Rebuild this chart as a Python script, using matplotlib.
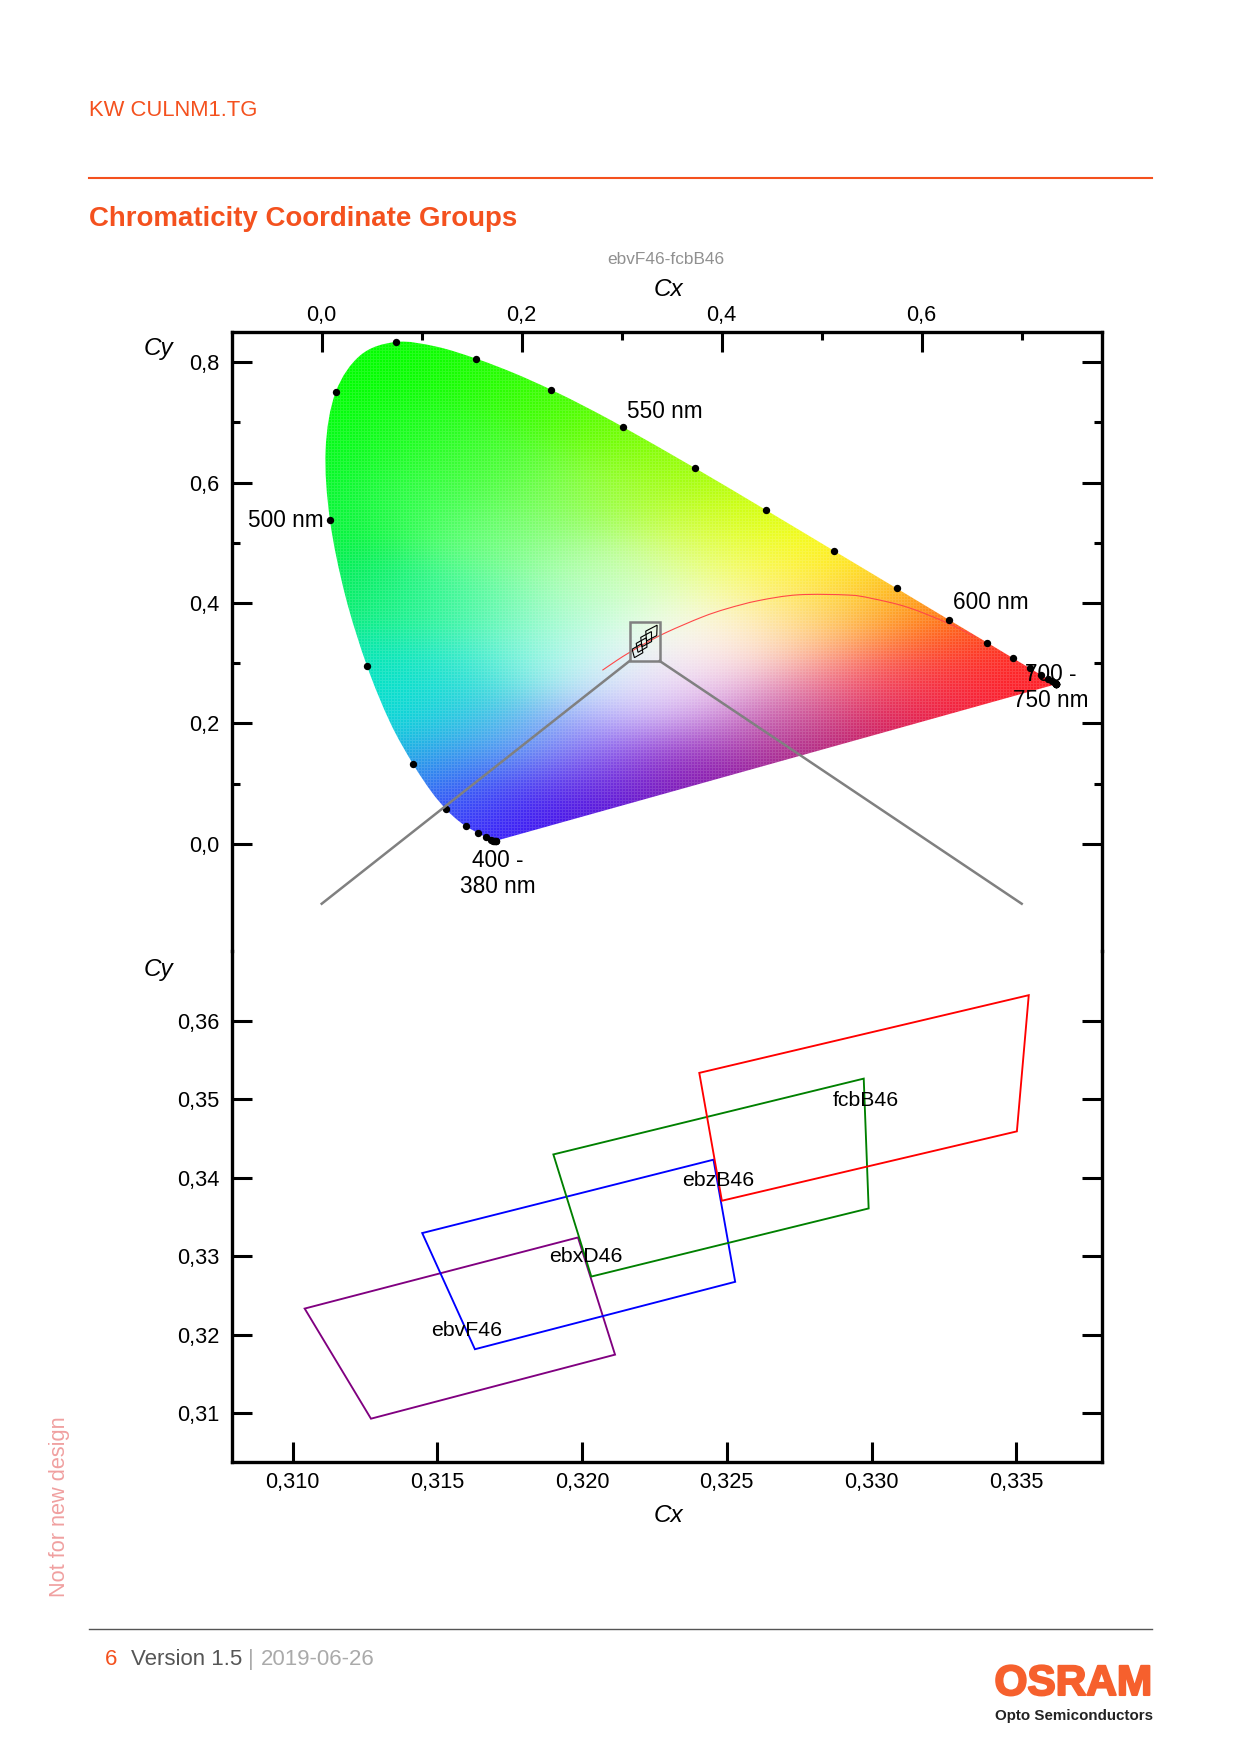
import numpy as np
import matplotlib
matplotlib.use("Agg")
import matplotlib.pyplot as plt
from matplotlib.patches import Polygon, Rectangle, PathPatch
from matplotlib.path import Path
from matplotlib import patheffects

plt.rcParams['font.family'] = ['Liberation Sans', 'DejaVu Sans']

ORANGE = '#F4511E'

# spectral locus, 380 - 750 nm in 10 nm steps (the black dots)
dots_x = [0.1741, 0.1738, 0.1733, 0.1726, 0.1714, 0.1689, 0.1644, 0.1566, 0.1440, 0.1241,
          0.0913, 0.0454, 0.0082, 0.0139, 0.0743, 0.1547, 0.2296, 0.3016, 0.3731, 0.4441,
          0.5125, 0.5752, 0.6270, 0.6658, 0.6915, 0.7079, 0.7190, 0.7260, 0.7300, 0.7334,
          0.7347, 0.7347, 0.7347, 0.7347, 0.7347, 0.7347, 0.7347, 0.7347]
dots_y = [0.0050, 0.0049, 0.0048, 0.0048, 0.0051, 0.0069, 0.0109, 0.0177, 0.0297, 0.0578,
          0.1327, 0.2950, 0.5384, 0.7502, 0.8338, 0.8059, 0.7543, 0.6923, 0.6245, 0.5547,
          0.4866, 0.4242, 0.3725, 0.3340, 0.3083, 0.2920, 0.2809, 0.2740, 0.2700, 0.2666,
          0.2653, 0.2653, 0.2653, 0.2653, 0.2653, 0.2653, 0.2653, 0.2653]

# gamut outline, a bit finer between 450 and 550 nm
edge_x = [0.1741, 0.1714, 0.1644, 0.1566, 0.1510, 0.1440, 0.1355, 0.1241, 0.1096, 0.0913, 0.0687,
          0.0454, 0.0235, 0.0082, 0.0039, 0.0139, 0.0389, 0.0743, 0.1142, 0.1547, 0.1929,
          0.2296, 0.2658, 0.3016, 0.3731, 0.4441, 0.5125, 0.5752, 0.6270, 0.6658, 0.6915, 0.7079, 0.7347]
edge_y = [0.0050, 0.0051, 0.0109, 0.0177, 0.0227, 0.0297, 0.0399, 0.0578, 0.0868, 0.1327, 0.2007,
          0.2950, 0.4127, 0.5384, 0.6548, 0.7502, 0.8120, 0.8338, 0.8262, 0.8059, 0.7816,
          0.7543, 0.7243, 0.6923, 0.6245, 0.5547, 0.4866, 0.4242, 0.3725, 0.3340, 0.3083, 0.2920, 0.2653]

# colours of the gamut at these (x, y)
tint_x = [0.083, 0.154, 0.229, 0.300, 0.371, 0.442, 0.512, 0.574, 0.626, 0.663, 0.706, 0.730,
          0.012, 0.005, 0.010, 0.022, 0.046, 0.064, 0.093, 0.123, 0.145, 0.173,
          0.234, 0.300, 0.376, 0.470, 0.555, 0.635, 0.697,
          0.093, 0.093, 0.164, 0.164, 0.235, 0.235, 0.305, 0.305, 0.376, 0.376, 0.447, 0.470, 0.517,
          0.531, 0.588, 0.470, 0.404, 0.423, 0.517, 0.602, 0.659, 0.470, 0.564, 0.635, 0.399, 0.470,
          0.329, 0.300, 0.281, 0.234, 0.305, 0.376, 0.258, 0.187, 0.140, 0.187, 0.140, 0.102, 0.140,
          0.210, 0.263, 0.093, 0.164, 0.235, 0.291, 0.281, 0.324, 0.362, 0.360, 0.376]
tint_y = [0.823, 0.801, 0.751, 0.690, 0.624, 0.555, 0.485, 0.424, 0.371, 0.335, 0.291, 0.264,
          0.750, 0.651, 0.541, 0.430, 0.297, 0.219, 0.131, 0.059, 0.031, 0.006,
          0.034, 0.070, 0.108, 0.153, 0.186, 0.225, 0.252,
          0.679, 0.568, 0.624, 0.513, 0.568, 0.485, 0.568, 0.457, 0.513, 0.430, 0.457, 0.402, 0.430,
          0.386, 0.375, 0.358, 0.358, 0.319, 0.302, 0.291, 0.291, 0.236, 0.241, 0.258, 0.209, 0.192,
          0.241, 0.275, 0.208, 0.169, 0.136, 0.136, 0.097, 0.070, 0.125, 0.180, 0.208, 0.236, 0.292,
          0.292, 0.303, 0.402, 0.402, 0.374, 0.385, 0.430, 0.330, 0.340, 0.290, 0.259]
tint_r = [0, 30, 60, 110, 150, 210, 255, 255, 255, 255, 255, 255,
          0, 0, 0, 0, 0, 0, 20, 50, 60, 50,
          70, 90, 120, 150, 190, 225, 255,
          30, 50, 70, 100, 120, 150, 170, 210, 220, 240, 255, 255, 255,
          255, 255, 255, 255, 255, 255, 255, 255, 230, 240, 250, 190, 195,
          220, 230, 180, 140, 145, 160, 95, 70, 70, 100, 50, 0, 50,
          120, 190, 30, 90, 140, 210, 190, 250, 255, 255, 240]
tint_g = [255, 255, 255, 255, 255, 255, 255, 190, 120, 60, 30, 30,
          255, 250, 245, 235, 230, 225, 175, 110, 60, 0,
          0, 0, 0, 0, 0, 10, 20,
          255, 255, 255, 255, 255, 255, 255, 255, 255, 255, 255, 240, 230,
          190, 140, 225, 255, 220, 130, 80, 50, 135, 70, 40, 130, 85,
          205, 245, 170, 150, 70, 50, 50, 50, 110, 190, 190, 225, 235,
          245, 250, 245, 250, 250, 255, 255, 255, 255, 235, 190]
tint_b = [0, 0, 0, 0, 0, 0, 0, 0, 0, 10, 30, 40,
          0, 30, 50, 90, 170, 210, 225, 245, 250, 255,
          225, 190, 140, 110, 80, 60, 40,
          30, 80, 50, 120, 80, 150, 50, 170, 60, 170, 70, 120, 50,
          80, 30, 170, 230, 220, 130, 80, 50, 180, 110, 70, 230, 160,
          255, 255, 255, 255, 235, 200, 240, 250, 250, 240, 230, 215, 200,
          225, 245, 140, 165, 195, 225, 190, 250, 240, 250, 235]

# planckian locus (red line)
planck_x = [0.2807, 0.2952, 0.3064, 0.3221, 0.3451, 0.3805, 0.4053, 0.4369, 0.4767, 0.5267, 0.5497, 0.5857, 0.6253, 0.6529]
planck_y = [0.2884, 0.3048, 0.3166, 0.3318, 0.3516, 0.3768, 0.3907, 0.4041, 0.4137, 0.4133, 0.4078, 0.3931, 0.3672, 0.3446]

# chromaticity groups
group_names = ['ebvF46', 'ebxD46', 'ebzB46', 'fcbB46']
group_colors = ['purple', 'blue', 'green', 'red']
group_x = [[0.31042, 0.31271, 0.32114, 0.31986],
           [0.31448, 0.31630, 0.32529, 0.32454],
           [0.31901, 0.32032, 0.32990, 0.32973],
           [0.32405, 0.32483, 0.33502, 0.33543]]
group_y = [[0.32334, 0.30931, 0.31747, 0.33240],
           [0.33296, 0.31816, 0.32675, 0.34231],
           [0.34298, 0.32742, 0.33610, 0.35264],
           [0.35337, 0.33708, 0.34592, 0.36327]]
label_x = [0.31602, 0.32013, 0.32472, 0.32980]
label_y = [0.32049, 0.32993, 0.33962, 0.34983]

# wavelength labels
nm_text = ['550 nm', '600 nm', '700 -', '750 nm', '400 -', '380 nm']
nm_x = [0.343, 0.669, 0.729, 0.729, 0.176, 0.176]
nm_y = [0.7177, 0.4017, 0.2807, 0.2382, -0.0278, -0.0705]

top_xticks = [0.0, 0.2, 0.4, 0.6]
top_xminor = [0.1, 0.3, 0.5, 0.7]
top_yticks = [0.0, 0.2, 0.4, 0.6, 0.8]
top_yminor = [0.1, 0.3, 0.5, 0.7]
low_xticks = [0.310, 0.315, 0.320, 0.325, 0.330, 0.335]
low_yticks = [0.31, 0.32, 0.33, 0.34, 0.35, 0.36]

W, H = 1240, 1754
fig = plt.figure(figsize=(12.4, 17.54), dpi=100)


def ftext(px, py, s, **kw):
    kw.setdefault('va', 'center')
    return fig.text(px / W, 1 - py / H, s, **kw)


def axes_px(x0, y0, x1, y1):
    a = fig.add_axes([x0 / W, 1 - y1 / H, (x1 - x0) / W, (y1 - y0) / H])
    a.patch.set_visible(False)
    return a


def comma(vals, n):
    return [f'{v:.{n}f}'.replace('.', ',') for v in vals]


def curve_path(xs, ys, closed=False):
    # bezier through the given points; closed = straight back to the start
    p = np.column_stack([xs, ys])
    verts, codes = [p[0]], [Path.MOVETO]
    for i in range(len(p) - 1):
        a = p[max(i - 1, 0)]
        d = p[min(i + 2, len(p) - 1)]
        verts += [p[i] + (p[i + 1] - a) / 6, p[i + 1] - (d - p[i]) / 6, p[i + 1]]
        codes += [Path.CURVE4] * 3
    if closed:
        verts.append(p[0])
        codes.append(Path.CLOSEPOLY)
    return Path(verts, codes)


def gamut_image(nx, ny, xlim, ylim, sigma=0.05):
    # blend the read-off colours over the pixel grid, then add the fine dot raster
    x, y = np.meshgrid(np.linspace(xlim[0], xlim[1], nx), np.linspace(ylim[1], ylim[0], ny))
    sum_w = np.zeros((ny, nx))
    sum_c = np.zeros((ny, nx, 3))
    for tx, ty, r, g, b in zip(tint_x, tint_y, tint_r, tint_g, tint_b):
        w = np.exp(-((x - tx) ** 2 + (y - ty) ** 2) / (2 * sigma ** 2)) + 1e-12
        sum_w += w
        sum_c += w[..., None] * np.array([r, g, b]) / 255
    rgb = sum_c / sum_w[..., None]
    rows, cols = np.indices((ny, nx))
    mask = ((rows % 3 == 0) | (cols % 3 == 0))
    rgb = np.where(mask[..., None], rgb * 0.88 + 0.12, rgb)
    return np.clip(rgb, 0, 1)


# frame is two axes sharing one outline
xlim_top = (-0.0897, 0.7803)
ylim_top = (-0.178, 0.8503)
xlim_low = (0.30791, 0.33796)
ylim_low = (0.30383, 0.3689)

ax = axes_px(232, 332, 1102, 951)
ax2 = axes_px(232, 951, 1102, 1461.7)

im = ax.imshow(gamut_image(870, 619, xlim_top, ylim_top), extent=[*xlim_top, *ylim_top],
               aspect='auto', interpolation='nearest', zorder=1)
clip = PathPatch(curve_path(edge_x, edge_y, closed=True), transform=ax.transData)
im.set_clip_path(clip)
ax.set_xlim(xlim_top)
ax.set_ylim(ylim_top)

ax.add_patch(PathPatch(curve_path(planck_x, planck_y), fill=False, ec='#FF4848', lw=0.8, zorder=2))
for qx, qy in zip(group_x, group_y):
    ax.add_patch(Polygon(np.column_stack([qx, qy]), closed=True, fill=False, ec='black', lw=0.8, zorder=3))
ax.plot(dots_x, dots_y, 'o', color='black', ms=5.3, mew=0, zorder=4, clip_on=False)

# zoom box and the lines running to the lower plot
ax.add_patch(Rectangle((xlim_low[0], ylim_low[0]), xlim_low[1] - xlim_low[0], ylim_low[1] - ylim_low[0],
                       fill=False, ec='#808080', lw=1.8, zorder=5))
ax.plot([xlim_low[0], 0.0], [ylim_low[0], -0.0995], color='#808080', lw=1.8, zorder=5)
ax.plot([xlim_low[1], 0.70], [ylim_low[0], -0.0995], color='#808080', lw=1.8, zorder=5)

for s, x, y in zip(nm_text, nm_x, nm_y):
    ax.text(x, y, s, fontsize=16.3, ha='center', va='center', zorder=6)
ax.text(0.002, 0.5375, '500 nm', fontsize=16.3, ha='right', va='center', zorder=6)

ax.set_xticks(top_xticks, comma(top_xticks, 1))
ax.set_xticks(top_xminor, minor=True)
ax.set_yticks(top_yticks, comma(top_yticks, 1))
ax.set_yticks(top_yminor, minor=True)
ax.tick_params(which='both', direction='in', top=True, bottom=False, left=True, right=True,
               labeltop=True, labelbottom=False, labelsize=15.7, width=2.2)
ax.tick_params(which='major', length=14.5)
ax.tick_params(which='minor', length=6)
ax.tick_params(axis='x', which='major', pad=4.6)
ax.tick_params(axis='y', which='major', pad=9)
ax.spines['bottom'].set_visible(False)

# lower plot
for qx, qy, c in zip(group_x, group_y, group_colors):
    ax2.add_patch(Polygon(np.column_stack([qx, qy]), closed=True, fill=False, ec=c, lw=1.35))
for s, x, y in zip(group_names, label_x, label_y):
    ax2.text(x, y, s, fontsize=15.3, ha='center', va='center')
ax2.set_xlim(xlim_low)
ax2.set_ylim(ylim_low)
ax2.set_xticks(low_xticks, comma(low_xticks, 3))
ax2.set_yticks(low_yticks, comma(low_yticks, 2))
ax2.tick_params(direction='in', top=False, bottom=True, left=True, right=True, labelsize=15.7,
                width=2.2, length=14.5)
ax2.tick_params(axis='x', pad=7.7)
ax2.tick_params(axis='y', pad=9)
ax2.spines['top'].set_visible(False)

for a in (ax, ax2):
    for sp in a.spines.values():
        sp.set_linewidth(2.4)

# axis names
ftext(668, 289, 'Cx', fontsize=17.5, style='italic', ha='center')
ftext(668, 1516, 'Cx', fontsize=17.5, style='italic', ha='center')
ftext(158, 348.5, 'Cy', fontsize=17.5, style='italic', ha='center')
ftext(158, 969.5, 'Cy', fontsize=17.5, style='italic', ha='center')
ftext(666, 260, 'ebvF46-fcbB46', fontsize=12.4, color='#909090', ha='center')

# page furniture
ftext(89, 110.5, 'KW CULNM1.TG', fontsize=15.8, color=ORANGE)
ftext(89, 218.5, 'Chromaticity Coordinate Groups', fontsize=19.9, fontweight='bold', color=ORANGE)
fig.add_artist(plt.Line2D([89 / W, 1151.5 / W], [1 - 177.7 / H] * 2, color=ORANGE, lw=1.5))
fig.add_artist(plt.Line2D([89 / W, 1151.5 / W], [1 - 1629 / H] * 2, color='#555555', lw=1.0))
ftext(60, 1507, 'Not for new design', fontsize=15.7, color='#F0A0A0', rotation=90, ha='center')
ftext(105, 1659.5, '6', fontsize=16, color=ORANGE)
ftext(131, 1659.5, 'Version 1.5', fontsize=16, color='#555555')
ftext(248.5, 1659.5, '|', fontsize=16, color='#AAAAAA')
ftext(261, 1659.5, '2019-06-26', fontsize=16, color='#AAAAAA')
logo = ftext(1152.5, 1684, 'OSRAM', fontsize=30.5, fontweight='bold', color='#F6602D', ha='right')
logo.set_path_effects([patheffects.withStroke(linewidth=1.5, foreground='#F6602D')])
ftext(1153, 1716, 'Opto Semiconductors', fontsize=10.9, fontweight='bold', color='#222222', ha='right')

fig.savefig('out.png', dpi=100)
